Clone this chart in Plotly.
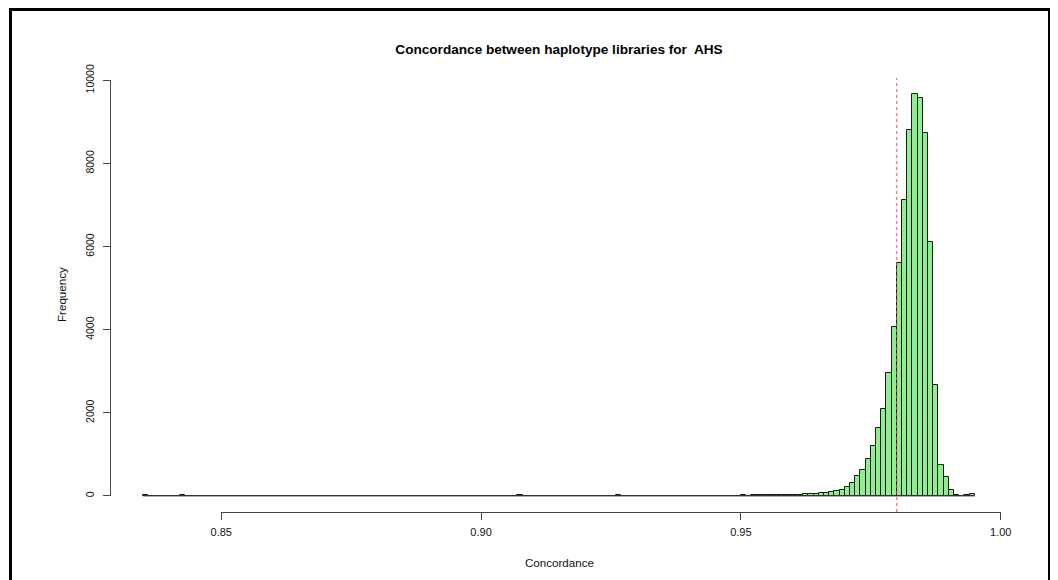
import plotly.graph_objects as go

# ---- data ----
bin_start = 0.835
bin_width = 0.001
counts = [
    22, 1, 0, 2, 0, 1, 0, 19, 1, 0,
    0, 1, 0, 0, 2, 0, 1, 0, 0, 1,
    0, 0, 1, 0, 1, 2, 0, 0, 1, 0,
    1, 0, 0, 1, 0, 1, 2, 1, 0, 1,
    0, 1, 1, 0, 2, 1, 0, 1, 1, 2,
    1, 0, 2, 1, 1, 0, 2, 1, 1, 2,
    1, 2, 1, 1, 2, 2, 1, 2, 2, 1,
    2, 3, 18, 2, 2, 3, 1, 2, 3, 2,
    3, 2, 3, 3, 2, 4, 3, 3, 4, 3,
    4, 16, 3, 4, 4, 5, 4, 5, 4, 5,
    5, 6, 5, 6, 6, 7, 6, 7, 8, 7,
    8, 9, 8, 10, 9, 11, 10, 12, 13, 14,
    14, 16, 18, 21, 24, 27, 31, 37, 45, 55, 64, 78, 94, 118,
    145, 225, 305, 482, 627, 900, 1205, 1639, 2088, 2956,
    4056, 5614, 7133, 8795, 9670, 9574, 8739, 6104, 2667, 755,
    450, 145, 15, 8, 18, 56,
]
cutoff = 0.98
x_ticks = [0.85, 0.90, 0.95, 1.00]
x_ticklabels = ["0.85", "0.90", "0.95", "1.00"]
y_ticks = [0, 2000, 4000, 6000, 8000, 10000]
y_ticklabels = ["0", "2000", "4000", "6000", "8000", "10000"]
title = "Concordance between haplotype libraries for\u00a0 AHS"
x_label = "Concordance"
y_label = "Frequency"

# ---- derived ----
n = len(counts)
edges = [bin_start + i * bin_width for i in range(n + 1)]
centers = [bin_start + (i + 0.5) * bin_width for i in range(n)]
xmin, xmax = edges[0], edges[-1]
xpad = 0.04 * (xmax - xmin)
xlo, xhi = xmin - xpad, xmax + xpad
ymax = max(counts)
ylo, yhi = -0.04 * ymax, 1.04 * ymax

# page body has an 8px margin; work in window pixels and subtract it
OFF = 8
W, H = 1058 - OFF, 580 - OFF
ml = 110 - OFF
mt = 78 - OFF
mr = W - (1008 - OFF)
mb = H - (512 - OFF)
pw, ph = W - ml - mr, H - mt - mb


def px_x(p):
    return (p - OFF - ml) / pw


def px_y(p):
    return (H - mb - (p - OFF)) / ph


dx0 = (x_ticks[0] - xlo) / (xhi - xlo)
dx1 = (x_ticks[-1] - xlo) / (xhi - xlo)
dy0 = (y_ticks[0] - ylo) / (yhi - ylo)
dy1 = (y_ticks[-1] - ylo) / (yhi - ylo)

fig = go.Figure()
fig.add_trace(go.Scatter(
    x=[xmin, xmax], y=[0, 0], mode="lines",
    line=dict(color="#444444", width=1), hoverinfo="skip", showlegend=False))
fig.add_trace(go.Bar(
    x=centers, y=counts, width=bin_width,
    marker=dict(color="#90EE90", line=dict(color="#1a1a1a", width=1)),
    showlegend=False))
fig.add_trace(go.Scatter(
    x=x_ticks, y=[y_ticks[0]] * len(x_ticks), xaxis="x2", yaxis="y2",
    mode="markers", marker=dict(opacity=0), hoverinfo="skip", showlegend=False))

axis_common = dict(showgrid=False, zeroline=False, showline=True, linecolor="#444444",
                   linewidth=1, ticks="outside", ticklen=7, tickwidth=1,
                   tickcolor="#444444", fixedrange=True)

fig.update_layout(
    width=W, height=H,
    margin=dict(l=ml, r=mr, t=mt, b=mb, autoexpand=False),
    paper_bgcolor="white", plot_bgcolor="rgba(0,0,0,0)",
    font=dict(family="Liberation Sans, Arial, sans-serif", color="#111111"),
    title=dict(text="<b>" + title + "</b>", x=0.5, xref="paper", xanchor="center",
               y=1 - (49 - OFF) / H, yref="container", yanchor="middle",
               font=dict(size=13.6, color="#000000")),
    xaxis=dict(range=[xlo, xhi], visible=False, fixedrange=True),
    yaxis=dict(range=[ylo, yhi], visible=False, fixedrange=True),
    xaxis2=dict(domain=[dx0, dx1], range=[x_ticks[0], x_ticks[-1]], anchor="free",
                position=0, tickvals=x_ticks, ticktext=x_ticklabels,
                tickfont=dict(size=11, color="#111111"), ticklabelstandoff=3,
                **axis_common),
    yaxis2=dict(domain=[dy0, dy1], range=[y_ticks[0], y_ticks[-1]], anchor="free",
                position=0, tickvals=y_ticks, ticktext=y_ticklabels, tickangle=-90,
                tickfont=dict(size=10.5, color="#111111"), ticklabelstandoff=5,
                **axis_common),
    bargap=0,
    showlegend=False,
    annotations=[
        dict(text=x_label, x=0.5, xref="paper", y=px_y(562), yref="paper",
             showarrow=False, xanchor="center", yanchor="middle",
             font=dict(size=11.6, color="#111111")),
        dict(text=y_label, x=px_x(61), xref="paper", y=px_y(295), yref="paper",
             showarrow=False, xanchor="center", yanchor="middle", textangle=-90,
             font=dict(size=11.6, color="#111111")),
    ],
    shapes=[
        dict(type="rect", xref="paper", yref="paper",
             x0=px_x(10.5), x1=px_x(1049.5), y0=px_y(640), y1=px_y(9.5),
             line=dict(color="#000000", width=3), fillcolor="rgba(0,0,0,0)"),
        dict(type="line", xref="x", yref="paper", x0=cutoff, x1=cutoff, y0=0, y1=1,
             line=dict(color="#f05050", width=1, dash="dot")),
    ],
)

fig.write_html("out.html")
